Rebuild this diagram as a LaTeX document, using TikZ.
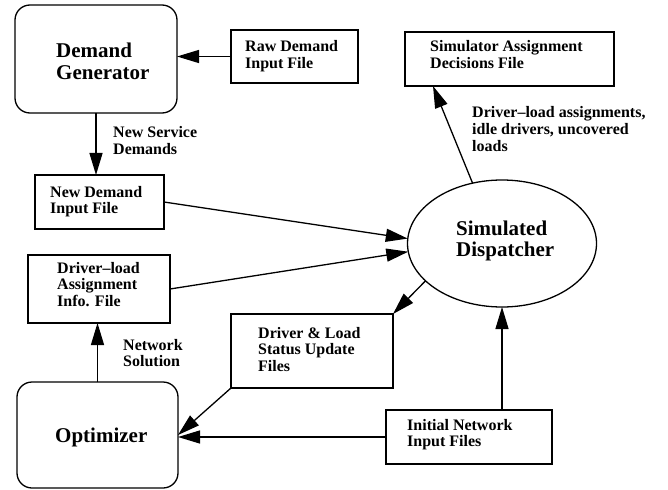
\documentclass[tikz,border=0pt]{standalone}
\usepackage{fontspec}
\setmainfont{Liberation Serif}[BoldFont={Liberation Serif Bold}]
\usetikzlibrary{arrows.meta,shapes.geometric,calc}

% stacked lines whose base is the baseline of the first line
\newcommand{\twoline}[2]{\vtop{\hbox{#1}\hbox{#2}}}
\newcommand{\threeline}[3]{\vtop{\hbox{#1}\hbox{#2}\hbox{#3}}}

\tikzset{
  wire/.style={line width=1.3pt},
  flow/.style={wire,-{Triangle[length=22pt,width=13pt]}},
  filebox/.style={draw,line width=1.3pt,rectangle,inner sep=0pt,outer sep=0pt},
  procbox/.style={draw,line width=1.3pt,rectangle,rounded corners=15pt,inner sep=0pt,outer sep=0pt},
  procell/.style={draw,line width=1.3pt,ellipse,inner sep=0pt,outer sep=0pt},
  smalltext/.style={inner sep=0pt,anchor=base west,font=\bfseries\fontsize{16}{16.7}\selectfont},
  bigtext/.style={inner sep=0pt,anchor=base west,font=\bfseries\fontsize{21}{21.5}\selectfont},
}

\begin{document}
\begin{tikzpicture}[x=1pt,y=-1pt]
\useasboundingbox (0,0) rectangle (668,489);

% process blocks
\node[procbox,minimum width=162pt,minimum height=108pt] (dg)  at (96,59) {};
\node[procbox,minimum width=161pt,minimum height=106pt] (opt) at (97.5,435) {};
\node[procell,minimum width=189pt,minimum height=127pt] (sd)  at (502,243.5) {};

% files
\node[filebox,minimum width=127pt,minimum height=53pt] (raw) at (294.5,56.5) {};
\node[filebox,minimum width=129pt,minimum height=54pt] (nd)  at (99.5,202) {};
\node[filebox,minimum width=209pt,minimum height=54pt] (sa)  at (509.5,59) {};
\node[filebox,minimum width=142pt,minimum height=68pt] (dl)  at (99,289) {};
\node[filebox,minimum width=162pt,minimum height=74pt] (st)  at (312,351) {};
\node[filebox,minimum width=166pt,minimum height=54pt] (inf) at (469,437) {};

% texts
\node[bigtext] (tdg)  at (56,58)  {\twoline{Demand}{Generator}};
\node[bigtext] (topt) at (55,442) {Optimizer};
\node[bigtext] (tsd)  at (456,235) {\twoline{Simulated}{Dispatcher}};

\node[smalltext] (traw) at (245,52)  {\twoline{Raw Demand}{Input File}};
\node[smalltext] (tnd)  at (50,197)  {\twoline{New Demand}{Input File}};
\node[smalltext] (tsa)  at (430,52)  {\twoline{Simulator Assignment}{Decisions File}};
\node[smalltext] (tdl)  at (57,273)  {\threeline{Driver--load}{Assignment}{Info. File}};
\node[smalltext] (tst)  at (258,338) {\threeline{Driver \& Load}{Status Update}{Files}};
\node[smalltext] (tinf) at (407,430) {\twoline{Initial Network}{Input Files}};

% edge labels
\node[smalltext] (lns) at (113,138) {\twoline{New Service}{Demands}};
\node[smalltext] (lnw) at (123,350) {\twoline{Network}{Solution}};
\node[smalltext] (lda) at (472,118) {\threeline{Driver--load assignments,}{idle drivers, uncovered}{loads}};

% connectors
\coordinate (satip) at ($(sa.south west)+(28,0)$);
\draw[flow] (raw.west) -- (raw.west -| dg.east);
\draw[flow] (dg.south) -- (dg.south |- nd.north);
\draw[flow] (nd.east) -- (sd.177);
\draw[flow] (dl.east) -- (sd.185);
\draw[flow] (sd.116) -- (satip);
\draw[flow] (sd.206) -- (st.north east);
\draw[flow] (st.south west) -- (opt.east);
\draw[flow] (inf.west) -- (inf.west -| opt.east);
\draw[flow] (sd.south |- inf.north) -- (sd.south);
\draw[flow] (opt.north) -- (opt.north |- dl.south);
\end{tikzpicture}
\end{document}
